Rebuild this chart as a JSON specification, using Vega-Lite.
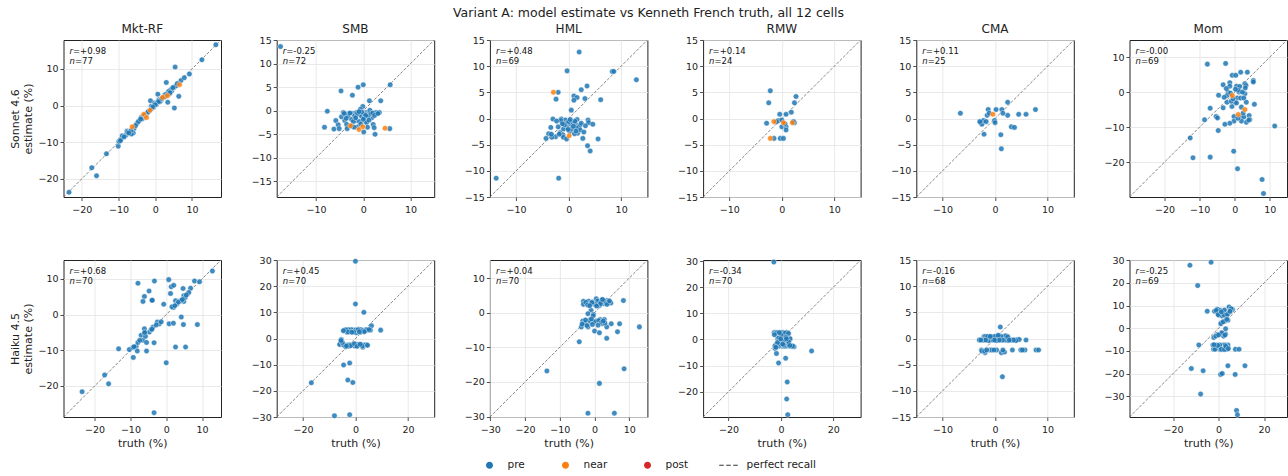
{
"$schema":"https://vega.github.io/schema/vega-lite/v6.json",
"background":"white",
"padding":{"left":8.5,"top":7,"right":1,"bottom":1},
"title":{"text":"Variant A: model estimate vs Kenneth French truth, all 12 cells","fontSize":12.5,"anchor":"middle","offset":3,"frame":"bounds"},
"columns":6,
"spacing":{"row":63,"column":55.2},
"bounds":"flush",
"datasets":{
"diag":[
{"p":"S1","t":-25,"e":-25},{"p":"S1","t":17.9,"e":17.9},
{"p":"S2","t":-18.3,"e":-18.3},{"p":"S2","t":15,"e":15},
{"p":"S3","t":-15,"e":-15},{"p":"S3","t":15,"e":15},
{"p":"S4","t":-15,"e":-15},{"p":"S4","t":15,"e":15},
{"p":"S5","t":-15,"e":-15},{"p":"S5","t":15,"e":15},
{"p":"S6","t":-30,"e":-30},{"p":"S6","t":14.9,"e":14.9},
{"p":"H1","t":-28.7,"e":-28.7},{"p":"H1","t":15.3,"e":15.3},
{"p":"H2","t":-30,"e":-30},{"p":"H2","t":30,"e":30},
{"p":"H3","t":-30.1,"e":-30.1},{"p":"H3","t":15.2,"e":15.2},
{"p":"H4","t":-29.7,"e":-29.7},{"p":"H4","t":30.4,"e":30.4},
{"p":"H5","t":-15,"e":-15},{"p":"H5","t":15,"e":15},
{"p":"H6","t":-39.2,"e":-39.2},{"p":"H6","t":30.1,"e":30.1}],
"ann":[
{"p":"S1","r":"=+0.98","n":"=77"},{"p":"S2","r":"=-0.25","n":"=72"},{"p":"S3","r":"=+0.48","n":"=69"},
{"p":"S4","r":"=+0.14","n":"=24"},{"p":"S5","r":"=+0.11","n":"=25"},{"p":"S6","r":"=-0.00","n":"=69"},
{"p":"H1","r":"=+0.68","n":"=70"},{"p":"H2","r":"=+0.45","n":"=70"},{"p":"H3","r":"=+0.04","n":"=70"},
{"p":"H4","r":"=-0.34","n":"=70"},{"p":"H5","r":"=-0.16","n":"=68"},{"p":"H6","r":"=-0.25","n":"=69"}],
"S1":[
{"t":-23.5,"e":-23.7,"w":"pre"},{"t":-17.3,"e":-17.0,"w":"pre"},{"t":-16.0,"e":-19.2,"w":"pre"},{"t":-13.3,"e":-13.2,"w":"pre"},{"t":-10.1,"e":-11.1,"w":"pre"},{"t":-9.9,"e":-9.8,"w":"pre"},{"t":-9.4,"e":-9.3,"w":"pre"},{"t":-9.0,"e":-8.3,"w":"pre"},{"t":-8.0,"e":-8.1,"w":"pre"},{"t":-7.7,"e":-7.0,"w":"pre"},{"t":-5.8,"e":-6.3,"w":"pre"},{"t":-6.0,"e":-7.5,"w":"pre"},{"t":-6.5,"e":-7.8,"w":"pre"},{"t":-5.0,"e":-4.9,"w":"pre"},{"t":-4.2,"e":-4.0,"w":"pre"},{"t":-3.8,"e":-3.2,"w":"pre"},{"t":-3.3,"e":-2.9,"w":"pre"},{"t":-2.2,"e":-2.1,"w":"pre"},{"t":-1.3,"e":1.3,"w":"pre"},{"t":-1.1,"e":-0.2,"w":"pre"},{"t":-0.2,"e":0.7,"w":"pre"},{"t":0.3,"e":0.3,"w":"pre"},{"t":0.7,"e":3.1,"w":"pre"},{"t":1.0,"e":1.6,"w":"pre"},{"t":1.4,"e":1.2,"w":"pre"},{"t":2.5,"e":2.8,"w":"pre"},{"t":3.0,"e":6.3,"w":"pre"},{"t":3.4,"e":0.9,"w":"pre"},{"t":3.9,"e":3.2,"w":"pre"},{"t":4.5,"e":4.0,"w":"pre"},{"t":5.1,"e":4.9,"w":"pre"},{"t":5.4,"e":10.5,"w":"pre"},{"t":5.7,"e":5.4,"w":"pre"},{"t":5.2,"e":-0.7,"w":"pre"},{"t":6.4,"e":2.5,"w":"pre"},{"t":7.0,"e":6.8,"w":"pre"},{"t":7.9,"e":7.6,"w":"pre"},{"t":9.3,"e":8.6,"w":"pre"},{"t":12.7,"e":12.5,"w":"pre"},{"t":16.5,"e":16.6,"w":"pre"},{"t":-8.5,"e":-8.6,"w":"pre"},{"t":-7.5,"e":-7.3,"w":"pre"},{"t":-3.5,"e":-3.6,"w":"pre"},{"t":-2.8,"e":-2.7,"w":"pre"},{"t":-0.5,"e":-0.5,"w":"pre"},{"t":0.5,"e":0.8,"w":"pre"},{"t":1.5,"e":1.4,"w":"pre"},{"t":2.2,"e":2.2,"w":"pre"},{"t":4.2,"e":4.3,"w":"pre"},{"t":4.8,"e":4.9,"w":"pre"},{"t":-4.6,"e":-4.4,"w":"pre"},{"t":-6.6,"e":-6.8,"w":"pre"},{"t":-1.8,"e":-1.6,"w":"pre"},{"t":3.6,"e":3.8,"w":"pre"},{"t":1.2,"e":1.0,"w":"pre"},{"t":-0.2,"e":0.2,"w":"pre"},{"t":0.9,"e":1.1,"w":"pre"},{"t":2.8,"e":3.0,"w":"pre"},{"t":-5.4,"e":-5.5,"w":"pre"},{"t":-9.5,"e":-9.6,"w":"pre"},{"t":-7.2,"e":-7.5,"w":"pre"},{"t":-4.0,"e":-3.7,"w":"pre"},{"t":0.0,"e":0.2,"w":"pre"},{"t":-1.0,"e":-0.8,"w":"pre"},{"t":6.0,"e":6.0,"w":"pre"},{"t":4.0,"e":3.5,"w":"pre"},{"t":-2.0,"e":-1.8,"w":"pre"},{"t":1.8,"e":1.9,"w":"pre"},{"t":-0.7,"e":-0.4,"w":"pre"},{"t":2.6,"e":2.4,"w":"pre"},
{"t":-6.3,"e":-5.8,"w":"near"},{"t":-3.1,"e":-2.4,"w":"near"},{"t":-2.4,"e":-3.3,"w":"near"},{"t":-1.4,"e":-1.3,"w":"near"},{"t":2.0,"e":2.2,"w":"near"},{"t":3.3,"e":2.7,"w":"near"},{"t":6.6,"e":5.7,"w":"near"}],
"S2":[
{"t":-17.5,"e":13.6,"w":"pre"},{"t":-4.7,"e":4.2,"w":"pre"},{"t":-2.3,"e":3.3,"w":"pre"},{"t":-1.1,"e":5.0,"w":"pre"},{"t":0.0,"e":5.5,"w":"pre"},{"t":5.7,"e":5.5,"w":"pre"},{"t":1.3,"e":2.1,"w":"pre"},{"t":3.7,"e":2.1,"w":"pre"},{"t":-0.1,"e":0.9,"w":"pre"},{"t":-7.6,"e":-0.1,"w":"pre"},{"t":-8.2,"e":-3.5,"w":"pre"},{"t":-6.2,"e":-3.9,"w":"pre"},{"t":-5.8,"e":-2.1,"w":"pre"},{"t":-5.3,"e":-3.0,"w":"pre"},{"t":-5.1,"e":-3.8,"w":"pre"},{"t":-4.6,"e":-1.3,"w":"pre"},{"t":-4.2,"e":-0.4,"w":"pre"},{"t":-3.9,"e":-2.1,"w":"pre"},{"t":-3.5,"e":-2.9,"w":"pre"},{"t":-3.4,"e":-3.8,"w":"pre"},{"t":-3.0,"e":-0.6,"w":"pre"},{"t":-2.5,"e":-1.8,"w":"pre"},{"t":-2.1,"e":-0.6,"w":"pre"},{"t":-1.8,"e":-1.1,"w":"pre"},{"t":-1.4,"e":-0.4,"w":"pre"},{"t":-1.1,"e":-3.4,"w":"pre"},{"t":-0.6,"e":-0.8,"w":"pre"},{"t":0.1,"e":-4.5,"w":"pre"},{"t":0.4,"e":-2.2,"w":"pre"},{"t":0.6,"e":-0.4,"w":"pre"},{"t":0.8,"e":-0.9,"w":"pre"},{"t":1.1,"e":-0.8,"w":"pre"},{"t":1.4,"e":0.1,"w":"pre"},{"t":1.8,"e":-1.5,"w":"pre"},{"t":2.1,"e":-2.9,"w":"pre"},{"t":2.3,"e":-3.6,"w":"pre"},{"t":2.5,"e":-5.0,"w":"pre"},{"t":2.7,"e":-0.4,"w":"pre"},{"t":3.4,"e":-0.4,"w":"pre"},{"t":5.6,"e":-3.8,"w":"pre"},{"t":-0.6,"e":0.3,"w":"pre"},{"t":-0.4,"e":-1.1,"w":"pre"},{"t":0.2,"e":-1.5,"w":"pre"},{"t":-1.5,"e":-2.1,"w":"pre"},{"t":-0.8,"e":-2.3,"w":"pre"},{"t":0.7,"e":-2.5,"w":"pre"},{"t":-3.2,"e":-1.1,"w":"pre"},{"t":-2.1,"e":-2.3,"w":"pre"},{"t":-1.2,"e":-0.6,"w":"pre"},{"t":0.3,"e":-0.7,"w":"pre"},{"t":1.0,"e":-1.2,"w":"pre"},{"t":-2.8,"e":-0.5,"w":"pre"},{"t":-0.3,"e":-0.3,"w":"pre"},{"t":1.6,"e":-0.6,"w":"pre"},{"t":-4.0,"e":-0.6,"w":"pre"},{"t":2.0,"e":-0.5,"w":"pre"},{"t":-1.6,"e":-1.5,"w":"pre"},{"t":0.9,"e":-3.5,"w":"pre"},{"t":-2.4,"e":-3.3,"w":"pre"},{"t":-0.5,"e":-2.8,"w":"pre"},{"t":1.2,"e":-2.0,"w":"pre"},{"t":-3.6,"e":-1.6,"w":"pre"},{"t":0.5,"e":-1.0,"w":"pre"},{"t":-0.9,"e":-0.2,"w":"pre"},{"t":2.4,"e":-1.0,"w":"pre"},{"t":3.1,"e":-0.6,"w":"pre"},{"t":-1.9,"e":-3.5,"w":"pre"},{"t":0.0,"e":-1.8,"w":"pre"},
{"t":-2.7,"e":-3.2,"w":"near"},{"t":-0.9,"e":-4.0,"w":"near"},{"t":-0.1,"e":-3.4,"w":"near"},{"t":4.6,"e":-3.7,"w":"near"}],
"S3":[
{"t":-13.8,"e":-11.4,"w":"pre"},{"t":-1.9,"e":-11.4,"w":"pre"},{"t":2.0,"e":12.7,"w":"pre"},{"t":-0.3,"e":9.1,"w":"pre"},{"t":8.3,"e":9.0,"w":"pre"},{"t":8.6,"e":9.0,"w":"pre"},{"t":12.9,"e":7.4,"w":"pre"},{"t":-2.0,"e":5.0,"w":"pre"},{"t":-2.4,"e":3.7,"w":"pre"},{"t":1.0,"e":4.3,"w":"pre"},{"t":1.6,"e":4.0,"w":"pre"},{"t":1.0,"e":3.5,"w":"pre"},{"t":2.4,"e":5.5,"w":"pre"},{"t":3.5,"e":6.2,"w":"pre"},{"t":3.1,"e":3.8,"w":"pre"},{"t":6.1,"e":3.6,"w":"pre"},{"t":0.5,"e":1.6,"w":"pre"},{"t":-3.0,"e":-0.1,"w":"pre"},{"t":-1.4,"e":-0.1,"w":"pre"},{"t":-0.6,"e":-0.3,"w":"pre"},{"t":-0.3,"e":-0.9,"w":"pre"},{"t":-3.4,"e":-1.7,"w":"pre"},{"t":-3.8,"e":-2.9,"w":"pre"},{"t":-4.3,"e":-3.8,"w":"pre"},{"t":-2.5,"e":-3.5,"w":"pre"},{"t":-1.6,"e":-2.7,"w":"pre"},{"t":-1.1,"e":-3.1,"w":"pre"},{"t":-1.0,"e":-3.6,"w":"pre"},{"t":-0.4,"e":-3.9,"w":"pre"},{"t":0.4,"e":-1.1,"w":"pre"},{"t":0.8,"e":-0.8,"w":"pre"},{"t":1.3,"e":-1.1,"w":"pre"},{"t":1.6,"e":-0.2,"w":"pre"},{"t":1.9,"e":-1.7,"w":"pre"},{"t":1.7,"e":-2.8,"w":"pre"},{"t":2.1,"e":-1.4,"w":"pre"},{"t":2.4,"e":-0.9,"w":"pre"},{"t":2.7,"e":-3.8,"w":"pre"},{"t":3.6,"e":-5.2,"w":"pre"},{"t":4.1,"e":-6.2,"w":"pre"},{"t":5.6,"e":-3.9,"w":"pre"},{"t":3.7,"e":-0.3,"w":"pre"},{"t":3.8,"e":-0.8,"w":"pre"},{"t":4.6,"e":-1.1,"w":"pre"},{"t":-0.3,"e":-1.7,"w":"pre"},{"t":0.2,"e":-2.5,"w":"pre"},{"t":0.6,"e":-2.0,"w":"pre"},{"t":1.1,"e":-2.9,"w":"pre"},{"t":1.5,"e":-1.8,"w":"pre"},{"t":-2.0,"e":-1.6,"w":"pre"},{"t":-1.0,"e":-2.0,"w":"pre"},{"t":-3.2,"e":-3.6,"w":"pre"},{"t":-1.5,"e":-0.4,"w":"pre"},{"t":-3.3,"e":-3.0,"w":"pre"},{"t":0.0,"e":-0.6,"w":"pre"},{"t":1.2,"e":-0.5,"w":"pre"},{"t":2.2,"e":-2.2,"w":"pre"},{"t":-0.8,"e":-1.2,"w":"pre"},{"t":-2.3,"e":-0.5,"w":"pre"},{"t":0.9,"e":-1.5,"w":"pre"},{"t":-1.8,"e":-3.0,"w":"pre"},{"t":3.2,"e":-1.4,"w":"pre"},{"t":-0.1,"e":-2.1,"w":"pre"},{"t":1.4,"e":-2.4,"w":"pre"},{"t":2.9,"e":-2.6,"w":"pre"},{"t":-1.2,"e":-1.0,"w":"pre"},{"t":0.3,"e":-0.2,"w":"pre"},
{"t":-2.9,"e":5.0,"w":"near"},{"t":0.1,"e":-3.3,"w":"near"}],
"S4":[
{"t":-2.2,"e":5.3,"w":"pre"},{"t":-2.5,"e":3.0,"w":"pre"},{"t":2.7,"e":4.2,"w":"pre"},{"t":2.4,"e":3.0,"w":"pre"},{"t":-0.4,"e":0.8,"w":"pre"},{"t":0.8,"e":0.8,"w":"pre"},{"t":1.8,"e":1.2,"w":"pre"},{"t":-2.9,"e":-0.9,"w":"pre"},{"t":-0.6,"e":-0.4,"w":"pre"},{"t":0.0,"e":-1.6,"w":"pre"},{"t":0.8,"e":-1.6,"w":"pre"},{"t":0.8,"e":-2.2,"w":"pre"},{"t":2.4,"e":-0.8,"w":"pre"},{"t":-1.5,"e":-3.8,"w":"pre"},{"t":-0.3,"e":-3.8,"w":"pre"},{"t":0.3,"e":-3.8,"w":"pre"},{"t":-1.0,"e":-0.6,"w":"pre"},{"t":2.2,"e":-0.6,"w":"pre"},{"t":0.0,"e":-0.3,"w":"pre"},{"t":0.6,"e":-1.0,"w":"pre"},
{"t":-1.5,"e":-0.6,"w":"near"},{"t":0.3,"e":-0.8,"w":"near"},{"t":2.0,"e":-0.8,"w":"near"},{"t":-2.2,"e":-3.8,"w":"near"}],
"S5":[
{"t":-6.6,"e":1.0,"w":"pre"},{"t":-1.3,"e":1.7,"w":"pre"},{"t":0.2,"e":1.7,"w":"pre"},{"t":1.3,"e":1.7,"w":"pre"},{"t":2.4,"e":3.1,"w":"pre"},{"t":2.4,"e":0.6,"w":"pre"},{"t":4.5,"e":0.8,"w":"pre"},{"t":5.9,"e":0.8,"w":"pre"},{"t":7.7,"e":1.7,"w":"pre"},{"t":1.5,"e":1.0,"w":"pre"},{"t":-1.5,"e":0.6,"w":"pre"},{"t":-2.7,"e":-0.8,"w":"pre"},{"t":-2.5,"e":-1.1,"w":"pre"},{"t":-2.2,"e":-0.4,"w":"pre"},{"t":-1.7,"e":-0.6,"w":"pre"},{"t":-0.1,"e":-0.4,"w":"pre"},{"t":-2.1,"e":-3.0,"w":"pre"},{"t":1.1,"e":-3.1,"w":"pre"},{"t":1.2,"e":-5.8,"w":"pre"},{"t":3.1,"e":-1.6,"w":"pre"},{"t":3.7,"e":-1.7,"w":"pre"},{"t":-1.1,"e":1.0,"w":"pre"},{"t":-2.9,"e":-0.6,"w":"pre"},{"t":0.0,"e":-0.8,"w":"pre"},
{"t":-0.4,"e":0.8,"w":"near"}],
"S6":[
{"t":-7.8,"e":8.0,"w":"pre"},{"t":-2.6,"e":8.2,"w":"pre"},{"t":-0.7,"e":4.8,"w":"pre"},{"t":0.3,"e":4.8,"w":"pre"},{"t":1.7,"e":5.7,"w":"pre"},{"t":3.6,"e":5.7,"w":"pre"},{"t":5.3,"e":3.3,"w":"pre"},{"t":5.3,"e":2.9,"w":"pre"},{"t":-3.3,"e":2.1,"w":"pre"},{"t":-1.4,"e":2.7,"w":"pre"},{"t":-1.4,"e":1.7,"w":"pre"},{"t":0.5,"e":1.7,"w":"pre"},{"t":1.4,"e":1.6,"w":"pre"},{"t":2.9,"e":2.4,"w":"pre"},{"t":3.2,"e":1.9,"w":"pre"},{"t":-1.9,"e":0.0,"w":"pre"},{"t":-2.2,"e":-1.0,"w":"pre"},{"t":1.2,"e":0.0,"w":"pre"},{"t":2.9,"e":-0.5,"w":"pre"},{"t":0.7,"e":-1.7,"w":"pre"},{"t":1.7,"e":-1.7,"w":"pre"},{"t":2.6,"e":-1.7,"w":"pre"},{"t":-4.6,"e":-0.9,"w":"pre"},{"t":0.0,"e":-2.9,"w":"pre"},{"t":-2.2,"e":-2.9,"w":"pre"},{"t":-3.3,"e":-4.5,"w":"pre"},{"t":-0.8,"e":-4.1,"w":"pre"},{"t":1.9,"e":-4.3,"w":"pre"},{"t":5.6,"e":-3.5,"w":"pre"},{"t":-7.0,"e":-4.6,"w":"pre"},{"t":-5.3,"e":-7.0,"w":"pre"},{"t":-4.9,"e":-7.4,"w":"pre"},{"t":-0.2,"e":-7.0,"w":"pre"},{"t":1.9,"e":-7.0,"w":"pre"},{"t":2.6,"e":-7.1,"w":"pre"},{"t":4.1,"e":-6.7,"w":"pre"},{"t":4.3,"e":-7.9,"w":"pre"},{"t":3.3,"e":-8.6,"w":"pre"},{"t":1.9,"e":-8.3,"w":"pre"},{"t":-0.2,"e":-8.3,"w":"pre"},{"t":-8.6,"e":-7.9,"w":"pre"},{"t":-1.4,"e":-8.9,"w":"pre"},{"t":-2.8,"e":-9.2,"w":"pre"},{"t":-4.7,"e":-11.0,"w":"pre"},{"t":11.4,"e":-9.7,"w":"pre"},{"t":-12.7,"e":-13.1,"w":"pre"},{"t":-11.9,"e":-18.8,"w":"pre"},{"t":-7.0,"e":-18.6,"w":"pre"},{"t":-0.3,"e":-16.9,"w":"pre"},{"t":0.8,"e":-21.9,"w":"pre"},{"t":7.8,"e":-25.0,"w":"pre"},{"t":8.2,"e":-29.0,"w":"pre"},{"t":-1.0,"e":-2.6,"w":"pre"},{"t":0.5,"e":-3.1,"w":"pre"},{"t":-2.4,"e":1.0,"w":"pre"},{"t":1.0,"e":0.5,"w":"pre"},{"t":-0.5,"e":-1.9,"w":"pre"},{"t":3.3,"e":-2.9,"w":"pre"},{"t":2.2,"e":0.0,"w":"pre"},{"t":0.2,"e":0.8,"w":"pre"},{"t":-1.2,"e":-0.3,"w":"pre"},{"t":3.0,"e":1.2,"w":"pre"},{"t":-3.0,"e":-1.5,"w":"pre"},{"t":4.0,"e":-8.0,"w":"pre"},{"t":0.9,"e":-7.5,"w":"pre"},{"t":2.4,"e":-6.0,"w":"pre"},
{"t":-0.7,"e":-1.0,"w":"near"},{"t":1.0,"e":-6.4,"w":"near"},{"t":2.9,"e":-5.0,"w":"near"}],
"H1":[
{"t":-23.5,"e":-21.6,"w":"pre"},{"t":-17.2,"e":-16.9,"w":"pre"},{"t":-16.1,"e":-19.4,"w":"pre"},{"t":-13.3,"e":-9.6,"w":"pre"},{"t":-10.3,"e":-9.8,"w":"pre"},{"t":-9.3,"e":-9.2,"w":"pre"},{"t":-9.2,"e":-12.0,"w":"pre"},{"t":-8.4,"e":-8.9,"w":"pre"},{"t":-7.9,"e":-7.8,"w":"pre"},{"t":-8.1,"e":-10.2,"w":"pre"},{"t":-7.0,"e":-5.8,"w":"pre"},{"t":-6.5,"e":-7.2,"w":"pre"},{"t":-6.1,"e":-4.0,"w":"pre"},{"t":-6.1,"e":-5.2,"w":"pre"},{"t":-5.5,"e":-7.8,"w":"pre"},{"t":-5.5,"e":-10.2,"w":"pre"},{"t":-5.8,"e":-6.1,"w":"pre"},{"t":-4.7,"e":-4.9,"w":"pre"},{"t":-4.2,"e":-4.2,"w":"pre"},{"t":-3.7,"e":-3.5,"w":"pre"},{"t":-3.4,"e":-7.9,"w":"pre"},{"t":-2.5,"e":-2.1,"w":"pre"},{"t":-1.9,"e":-2.6,"w":"pre"},{"t":-7.9,"e":8.8,"w":"pre"},{"t":-3.3,"e":9.4,"w":"pre"},{"t":-6.1,"e":5.1,"w":"pre"},{"t":-4.8,"e":6.6,"w":"pre"},{"t":-6.5,"e":3.7,"w":"pre"},{"t":-4.0,"e":4.0,"w":"pre"},{"t":-0.7,"e":2.9,"w":"pre"},{"t":0.7,"e":9.8,"w":"pre"},{"t":1.4,"e":7.8,"w":"pre"},{"t":2.1,"e":8.2,"w":"pre"},{"t":1.2,"e":5.9,"w":"pre"},{"t":2.6,"e":3.9,"w":"pre"},{"t":4.7,"e":7.3,"w":"pre"},{"t":6.8,"e":7.4,"w":"pre"},{"t":7.9,"e":9.4,"w":"pre"},{"t":9.3,"e":9.2,"w":"pre"},{"t":12.9,"e":12.2,"w":"pre"},{"t":2.0,"e":2.0,"w":"pre"},{"t":3.0,"e":3.0,"w":"pre"},{"t":3.9,"e":3.9,"w":"pre"},{"t":4.9,"e":3.7,"w":"pre"},{"t":5.9,"e":5.7,"w":"pre"},{"t":6.3,"e":6.2,"w":"pre"},{"t":4.9,"e":5.3,"w":"pre"},{"t":0.8,"e":-2.6,"w":"pre"},{"t":2.0,"e":-2.4,"w":"pre"},{"t":4.2,"e":-0.7,"w":"pre"},{"t":4.8,"e":-2.8,"w":"pre"},{"t":8.7,"e":-2.8,"w":"pre"},{"t":2.6,"e":-9.1,"w":"pre"},{"t":5.4,"e":-9.1,"w":"pre"},{"t":0.0,"e":-13.5,"w":"pre"},{"t":-3.4,"e":-27.5,"w":"pre"},{"t":4.2,"e":3.9,"w":"pre"},{"t":5.3,"e":4.8,"w":"pre"},{"t":-9.0,"e":-9.0,"w":"pre"},{"t":-2.8,"e":-2.9,"w":"pre"},{"t":-4.0,"e":-4.1,"w":"pre"},{"t":1.6,"e":2.2,"w":"pre"},{"t":3.4,"e":3.5,"w":"pre"},{"t":-7.4,"e":-7.2,"w":"pre"},{"t":-1.4,"e":-2.0,"w":"pre"},{"t":2.4,"e":2.5,"w":"pre"},{"t":-3.9,"e":4.0,"w":"pre"},{"t":5.6,"e":5.5,"w":"pre"},{"t":-6.0,"e":-5.0,"w":"pre"},{"t":4.5,"e":4.2,"w":"pre"}],
"H2":[
{"t":0.0,"e":29.5,"w":"pre"},{"t":0.0,"e":13.2,"w":"pre"},{"t":3.2,"e":10.0,"w":"pre"},{"t":6.1,"e":4.9,"w":"pre"},{"t":9.6,"e":3.2,"w":"pre"},{"t":5.7,"e":3.2,"w":"pre"},{"t":-4.1,"e":3.2,"w":"pre"},{"t":-3.2,"e":3.2,"w":"pre"},{"t":-1.9,"e":3.2,"w":"pre"},{"t":-0.9,"e":3.2,"w":"pre"},{"t":0.6,"e":3.2,"w":"pre"},{"t":1.7,"e":3.2,"w":"pre"},{"t":2.5,"e":3.2,"w":"pre"},{"t":3.8,"e":3.2,"w":"pre"},{"t":4.7,"e":3.2,"w":"pre"},{"t":-3.2,"e":2.4,"w":"pre"},{"t":-0.3,"e":2.4,"w":"pre"},{"t":1.9,"e":2.4,"w":"pre"},{"t":-5.4,"e":-0.4,"w":"pre"},{"t":-5.7,"e":-1.9,"w":"pre"},{"t":-6.0,"e":-2.3,"w":"pre"},{"t":-4.7,"e":-2.4,"w":"pre"},{"t":-2.2,"e":-2.4,"w":"pre"},{"t":-0.6,"e":-2.4,"w":"pre"},{"t":1.3,"e":-2.4,"w":"pre"},{"t":4.2,"e":-2.4,"w":"pre"},{"t":-2.5,"e":-3.0,"w":"pre"},{"t":2.8,"e":-3.3,"w":"pre"},{"t":-3.8,"e":-3.2,"w":"pre"},{"t":-4.5,"e":-10.1,"w":"pre"},{"t":-2.2,"e":-9.4,"w":"pre"},{"t":-2.9,"e":-15.9,"w":"pre"},{"t":-1.0,"e":-16.8,"w":"pre"},{"t":-16.8,"e":-16.9,"w":"pre"},{"t":-8.0,"e":-29.5,"w":"pre"},{"t":-2.2,"e":-29.1,"w":"pre"},{"t":0.3,"e":2.2,"w":"pre"},{"t":1.3,"e":3.5,"w":"pre"},{"t":-1.5,"e":3.3,"w":"pre"},{"t":2.0,"e":3.3,"w":"pre"},{"t":3.0,"e":3.0,"w":"pre"},{"t":-2.6,"e":3.3,"w":"pre"},{"t":0.0,"e":3.2,"w":"pre"},{"t":1.0,"e":3.3,"w":"pre"},{"t":-3.6,"e":3.3,"w":"pre"},{"t":4.2,"e":3.3,"w":"pre"},{"t":-1.2,"e":-2.4,"w":"pre"},{"t":0.2,"e":-2.4,"w":"pre"},{"t":2.2,"e":-2.4,"w":"pre"},{"t":-3.2,"e":-2.5,"w":"pre"},{"t":-4.2,"e":-2.6,"w":"pre"},{"t":3.2,"e":-2.5,"w":"pre"},{"t":-0.2,"e":-2.9,"w":"pre"},{"t":-1.8,"e":-2.7,"w":"pre"},{"t":2.6,"e":-2.9,"w":"pre"},{"t":-5.0,"e":-1.5,"w":"pre"},{"t":0.8,"e":-2.3,"w":"pre"},{"t":-2.8,"e":2.5,"w":"pre"},{"t":3.4,"e":2.6,"w":"pre"},{"t":-0.6,"e":2.5,"w":"pre"},{"t":1.5,"e":2.6,"w":"pre"},{"t":-4.6,"e":3.0,"w":"pre"},{"t":5.2,"e":3.4,"w":"pre"},{"t":-0.4,"e":-2.0,"w":"pre"},{"t":-3.4,"e":-2.9,"w":"pre"},{"t":0.6,"e":-3.0,"w":"pre"},{"t":1.8,"e":-2.2,"w":"pre"},{"t":-5.5,"e":-0.8,"w":"pre"},{"t":4.6,"e":-2.6,"w":"pre"},{"t":-1.4,"e":2.4,"w":"pre"}],
"H3":[
{"t":-13.7,"e":-16.8,"w":"pre"},{"t":-4.4,"e":-8.4,"w":"pre"},{"t":-1.9,"e":-29.0,"w":"pre"},{"t":5.7,"e":-29.0,"w":"pre"},{"t":1.4,"e":-20.4,"w":"pre"},{"t":8.5,"e":-16.2,"w":"pre"},{"t":12.9,"e":-4.1,"w":"pre"},{"t":8.3,"e":3.5,"w":"pre"},{"t":-3.2,"e":3.3,"w":"pre"},{"t":-1.7,"e":3.3,"w":"pre"},{"t":0.5,"e":4.0,"w":"pre"},{"t":2.1,"e":3.7,"w":"pre"},{"t":3.5,"e":3.5,"w":"pre"},{"t":4.7,"e":2.8,"w":"pre"},{"t":-3.2,"e":2.4,"w":"pre"},{"t":-1.2,"e":2.6,"w":"pre"},{"t":-0.1,"e":2.4,"w":"pre"},{"t":1.1,"e":3.1,"w":"pre"},{"t":2.6,"e":2.6,"w":"pre"},{"t":3.1,"e":2.8,"w":"pre"},{"t":1.4,"e":2.1,"w":"pre"},{"t":-1.0,"e":0.7,"w":"pre"},{"t":-1.9,"e":-0.3,"w":"pre"},{"t":-0.3,"e":-0.5,"w":"pre"},{"t":-3.4,"e":-2.4,"w":"pre"},{"t":-2.2,"e":-2.6,"w":"pre"},{"t":-1.2,"e":-2.7,"w":"pre"},{"t":0.5,"e":-2.4,"w":"pre"},{"t":1.6,"e":-2.0,"w":"pre"},{"t":2.8,"e":-2.0,"w":"pre"},{"t":2.3,"e":-3.2,"w":"pre"},{"t":4.8,"e":-3.2,"w":"pre"},{"t":7.2,"e":-3.2,"w":"pre"},{"t":-3.8,"e":-4.1,"w":"pre"},{"t":-1.9,"e":-4.1,"w":"pre"},{"t":3.5,"e":-4.1,"w":"pre"},{"t":0.0,"e":-5.3,"w":"pre"},{"t":1.4,"e":-5.8,"w":"pre"},{"t":3.5,"e":-7.4,"w":"pre"},{"t":6.6,"e":-5.5,"w":"pre"},{"t":-2.7,"e":-3.2,"w":"pre"},{"t":-2.5,"e":3.0,"w":"pre"},{"t":-0.6,"e":3.1,"w":"pre"},{"t":0.9,"e":3.4,"w":"pre"},{"t":1.8,"e":3.0,"w":"pre"},{"t":2.9,"e":3.3,"w":"pre"},{"t":4.0,"e":3.1,"w":"pre"},{"t":-2.0,"e":2.2,"w":"pre"},{"t":0.3,"e":2.3,"w":"pre"},{"t":1.7,"e":2.6,"w":"pre"},{"t":3.6,"e":2.4,"w":"pre"},{"t":-0.8,"e":2.9,"w":"pre"},{"t":2.3,"e":3.8,"w":"pre"},{"t":-0.4,"e":-0.9,"w":"pre"},{"t":-2.9,"e":-3.0,"w":"pre"},{"t":-1.5,"e":-2.2,"w":"pre"},{"t":0.0,"e":-2.6,"w":"pre"},{"t":1.2,"e":-2.3,"w":"pre"},{"t":2.0,"e":-2.8,"w":"pre"},{"t":-0.6,"e":-3.4,"w":"pre"},{"t":-2.2,"e":-3.7,"w":"pre"},{"t":3.0,"e":-3.0,"w":"pre"},{"t":0.6,"e":1.9,"w":"pre"},{"t":-1.4,"e":2.0,"w":"pre"},{"t":4.3,"e":3.4,"w":"pre"},{"t":-2.6,"e":-2.1,"w":"pre"},{"t":1.0,"e":-3.6,"w":"pre"},{"t":2.5,"e":-2.4,"w":"pre"},{"t":-3.6,"e":-3.3,"w":"pre"},{"t":-0.9,"e":-1.8,"w":"pre"}],
"H4":[
{"t":-2.7,"e":29.6,"w":"pre"},{"t":-2.6,"e":2.6,"w":"pre"},{"t":-1.7,"e":2.6,"w":"pre"},{"t":0.6,"e":2.6,"w":"pre"},{"t":2.4,"e":2.6,"w":"pre"},{"t":-0.4,"e":0.4,"w":"pre"},{"t":1.3,"e":0.6,"w":"pre"},{"t":3.2,"e":0.4,"w":"pre"},{"t":2.2,"e":-0.9,"w":"pre"},{"t":-1.4,"e":-2.2,"w":"pre"},{"t":0.6,"e":-2.6,"w":"pre"},{"t":3.1,"e":-2.4,"w":"pre"},{"t":5.0,"e":-2.8,"w":"pre"},{"t":-2.2,"e":-3.5,"w":"pre"},{"t":-1.7,"e":-5.4,"w":"pre"},{"t":-0.9,"e":-9.0,"w":"pre"},{"t":1.8,"e":-7.2,"w":"pre"},{"t":11.7,"e":-4.4,"w":"pre"},{"t":2.4,"e":-16.3,"w":"pre"},{"t":2.2,"e":-22.8,"w":"pre"},{"t":2.6,"e":-28.8,"w":"pre"},{"t":1.5,"e":-0.3,"w":"pre"},{"t":-0.6,"e":-1.5,"w":"pre"},{"t":0.4,"e":1.3,"w":"pre"},{"t":-2.0,"e":2.6,"w":"pre"},{"t":1.0,"e":2.6,"w":"pre"},{"t":2.0,"e":2.6,"w":"pre"},{"t":-1.0,"e":2.4,"w":"pre"},{"t":0.0,"e":0.4,"w":"pre"},{"t":0.8,"e":0.4,"w":"pre"},{"t":2.6,"e":0.5,"w":"pre"},{"t":-1.2,"e":0.3,"w":"pre"},{"t":1.8,"e":-0.2,"w":"pre"},{"t":2.8,"e":-0.5,"w":"pre"},{"t":-0.2,"e":-0.8,"w":"pre"},{"t":0.2,"e":-2.4,"w":"pre"},{"t":1.4,"e":-2.6,"w":"pre"},{"t":2.2,"e":-2.5,"w":"pre"},{"t":3.6,"e":-2.6,"w":"pre"},{"t":-1.0,"e":-2.6,"w":"pre"},{"t":-0.5,"e":-2.3,"w":"pre"},{"t":4.2,"e":-2.7,"w":"pre"},{"t":-1.8,"e":-2.0,"w":"pre"},{"t":0.9,"e":-1.2,"w":"pre"},{"t":2.4,"e":-1.6,"w":"pre"},{"t":-0.8,"e":0.6,"w":"pre"},{"t":1.6,"e":1.0,"w":"pre"},{"t":3.5,"e":0.2,"w":"pre"},{"t":-1.5,"e":2.5,"w":"pre"},{"t":0.3,"e":2.5,"w":"pre"},{"t":1.6,"e":2.4,"w":"pre"},{"t":2.9,"e":2.3,"w":"pre"},{"t":-2.3,"e":-2.5,"w":"pre"},{"t":0.5,"e":-0.5,"w":"pre"},{"t":1.2,"e":-0.1,"w":"pre"},{"t":-0.3,"e":-1.8,"w":"pre"},{"t":2.7,"e":-2.0,"w":"pre"},{"t":4.5,"e":-2.5,"w":"pre"},{"t":-1.3,"e":-1.2,"w":"pre"},{"t":3.0,"e":-1.0,"w":"pre"},{"t":0.1,"e":1.8,"w":"pre"},{"t":-0.6,"e":2.6,"w":"pre"},{"t":1.9,"e":0.8,"w":"pre"},{"t":-0.1,"e":0.2,"w":"pre"},{"t":1.1,"e":-2.2,"w":"pre"},{"t":3.4,"e":-2.3,"w":"pre"},{"t":-2.5,"e":1.8,"w":"pre"},{"t":0.7,"e":-1.8,"w":"pre"},{"t":2.1,"e":0.2,"w":"pre"},{"t":-1.9,"e":-3.0,"w":"pre"}],
"H5":[
{"t":1.0,"e":2.2,"w":"pre"},{"t":1.4,"e":-7.3,"w":"pre"},{"t":-2.1,"e":0.4,"w":"pre"},{"t":-1.0,"e":0.4,"w":"pre"},{"t":-0.2,"e":0.4,"w":"pre"},{"t":0.8,"e":0.5,"w":"pre"},{"t":2.4,"e":0.4,"w":"pre"},{"t":-2.9,"e":-0.3,"w":"pre"},{"t":-2.4,"e":-0.3,"w":"pre"},{"t":-1.5,"e":-0.3,"w":"pre"},{"t":-0.8,"e":-0.3,"w":"pre"},{"t":0.1,"e":-0.3,"w":"pre"},{"t":1.2,"e":-0.3,"w":"pre"},{"t":1.7,"e":-0.3,"w":"pre"},{"t":3.3,"e":-0.3,"w":"pre"},{"t":3.8,"e":-0.3,"w":"pre"},{"t":4.3,"e":-0.2,"w":"pre"},{"t":4.6,"e":-0.2,"w":"pre"},{"t":5.9,"e":-0.3,"w":"pre"},{"t":2.8,"e":-0.3,"w":"pre"},{"t":-2.6,"e":-2.2,"w":"pre"},{"t":-1.0,"e":-2.2,"w":"pre"},{"t":0.3,"e":-2.2,"w":"pre"},{"t":3.3,"e":-2.2,"w":"pre"},{"t":4.9,"e":-2.2,"w":"pre"},{"t":5.7,"e":-2.2,"w":"pre"},{"t":7.8,"e":-2.2,"w":"pre"},{"t":8.3,"e":-2.2,"w":"pre"},{"t":-1.9,"e":-2.7,"w":"pre"},{"t":1.2,"e":-2.7,"w":"pre"},{"t":1.8,"e":-2.6,"w":"pre"},{"t":-2.5,"e":-2.4,"w":"pre"},{"t":-1.8,"e":0.4,"w":"pre"},{"t":-0.5,"e":0.3,"w":"pre"},{"t":0.4,"e":0.4,"w":"pre"},{"t":1.5,"e":0.4,"w":"pre"},{"t":2.0,"e":0.5,"w":"pre"},{"t":-2.2,"e":-0.3,"w":"pre"},{"t":-1.2,"e":-0.4,"w":"pre"},{"t":-0.4,"e":-0.3,"w":"pre"},{"t":0.5,"e":-0.3,"w":"pre"},{"t":0.9,"e":-0.3,"w":"pre"},{"t":2.2,"e":-0.3,"w":"pre"},{"t":2.5,"e":-0.4,"w":"pre"},{"t":3.0,"e":-0.3,"w":"pre"},{"t":4.0,"e":-0.4,"w":"pre"},{"t":-3.0,"e":-0.3,"w":"pre"},{"t":-0.6,"e":-2.2,"w":"pre"},{"t":1.5,"e":-2.2,"w":"pre"},{"t":-2.0,"e":-2.4,"w":"pre"},{"t":-1.4,"e":0.4,"w":"pre"},{"t":0.0,"e":0.4,"w":"pre"},{"t":1.1,"e":0.4,"w":"pre"},{"t":1.9,"e":-0.3,"w":"pre"},{"t":3.5,"e":-0.3,"w":"pre"},{"t":-1.8,"e":-0.3,"w":"pre"},{"t":0.3,"e":-0.4,"w":"pre"},{"t":-0.2,"e":-2.2,"w":"pre"},{"t":2.4,"e":0.3,"w":"pre"},{"t":0.6,"e":0.6,"w":"pre"},{"t":-2.7,"e":-0.3,"w":"pre"},{"t":1.4,"e":-0.3,"w":"pre"},{"t":-1.6,"e":-2.2,"w":"pre"},{"t":5.2,"e":-2.2,"w":"pre"},{"t":-0.9,"e":0.4,"w":"pre"},{"t":2.7,"e":-0.3,"w":"pre"},{"t":0.8,"e":-0.3,"w":"pre"},{"t":-0.1,"e":-0.3,"w":"pre"}],
"H6":[
{"t":-12.6,"e":27.8,"w":"pre"},{"t":-3.3,"e":29.1,"w":"pre"},{"t":-9.2,"e":18.8,"w":"pre"},{"t":-5.0,"e":7.5,"w":"pre"},{"t":-1.8,"e":7.5,"w":"pre"},{"t":-0.6,"e":8.4,"w":"pre"},{"t":0.9,"e":7.9,"w":"pre"},{"t":1.9,"e":7.5,"w":"pre"},{"t":4.6,"e":9.4,"w":"pre"},{"t":6.1,"e":8.2,"w":"pre"},{"t":4.9,"e":7.1,"w":"pre"},{"t":0.1,"e":5.7,"w":"pre"},{"t":1.6,"e":5.4,"w":"pre"},{"t":3.4,"e":5.7,"w":"pre"},{"t":4.1,"e":3.5,"w":"pre"},{"t":2.7,"e":3.1,"w":"pre"},{"t":1.2,"e":2.4,"w":"pre"},{"t":3.1,"e":-0.3,"w":"pre"},{"t":3.1,"e":-2.6,"w":"pre"},{"t":1.6,"e":-2.4,"w":"pre"},{"t":2.2,"e":-3.5,"w":"pre"},{"t":-2.1,"e":-4.1,"w":"pre"},{"t":-0.6,"e":-2.8,"w":"pre"},{"t":-8.7,"e":-7.4,"w":"pre"},{"t":-2.5,"e":-7.4,"w":"pre"},{"t":-0.7,"e":-7.4,"w":"pre"},{"t":1.9,"e":-7.4,"w":"pre"},{"t":4.1,"e":-7.4,"w":"pre"},{"t":-2.2,"e":-9.3,"w":"pre"},{"t":0.7,"e":-9.4,"w":"pre"},{"t":1.5,"e":-9.4,"w":"pre"},{"t":3.7,"e":-9.3,"w":"pre"},{"t":7.4,"e":-9.3,"w":"pre"},{"t":9.0,"e":-9.3,"w":"pre"},{"t":4.1,"e":-16.6,"w":"pre"},{"t":11.6,"e":-16.6,"w":"pre"},{"t":-12.0,"e":-17.8,"w":"pre"},{"t":-6.8,"e":-18.8,"w":"pre"},{"t":0.9,"e":-20.4,"w":"pre"},{"t":1.6,"e":-20.0,"w":"pre"},{"t":7.3,"e":-20.4,"w":"pre"},{"t":-7.9,"e":-29.1,"w":"pre"},{"t":7.9,"e":-36.3,"w":"pre"},{"t":8.3,"e":-38.2,"w":"pre"},{"t":0.4,"e":-8.2,"w":"pre"},{"t":-1.0,"e":7.8,"w":"pre"},{"t":2.6,"e":8.0,"w":"pre"},{"t":5.5,"e":8.6,"w":"pre"},{"t":-0.2,"e":6.0,"w":"pre"},{"t":2.4,"e":5.9,"w":"pre"},{"t":3.9,"e":6.1,"w":"pre"},{"t":1.0,"e":2.0,"w":"pre"},{"t":2.0,"e":2.8,"w":"pre"},{"t":3.6,"e":3.9,"w":"pre"},{"t":1.4,"e":-2.0,"w":"pre"},{"t":2.8,"e":-3.0,"w":"pre"},{"t":-1.2,"e":-3.5,"w":"pre"},{"t":0.5,"e":-7.4,"w":"pre"},{"t":2.9,"e":-7.4,"w":"pre"},{"t":-1.5,"e":-9.3,"w":"pre"},{"t":1.2,"e":-9.3,"w":"pre"},{"t":2.6,"e":-9.4,"w":"pre"},{"t":-0.4,"e":-7.6,"w":"pre"},{"t":3.2,"e":-8.0,"w":"pre"},{"t":0.0,"e":-3.0,"w":"pre"},{"t":5.0,"e":7.5,"w":"pre"},{"t":1.2,"e":7.2,"w":"pre"},{"t":-2.0,"e":-7.3,"w":"pre"},{"t":4.3,"e":-9.0,"w":"pre"}]
},
"concat":[
{"width":157.5,"height":157,"title":{"text":"Mkt-RF","dy":-5},"layer":[
{"data":{"name":"diag"},"transform":[{"filter":"datum.p=='S1'"}],"mark":{"type":"line","clip":true,"color":"#666","strokeWidth":0.8,"strokeDash":[3,1.6]},"encoding":{"x":{"field":"t","type":"quantitative","scale":{"domain":[-25,17.9],"nice":false,"zero":false},"axis":{"values":[-20,-10,0,10],"tickCount":20,"title":null}},"y":{"field":"e","type":"quantitative","scale":{"domain":[-25,17.9],"nice":false,"zero":false},"axis":{"values":[-20,-10,0,10],"tickCount":20,"title":["Sonnet 4.6","estimate (%)"]}}}},
{"data":{"name":"S1"},"mark":{"type":"point","filled":true,"size":250,"opacity":0.85,"stroke":"white","strokeWidth":0.5},"encoding":{"x":{"field":"t","type":"quantitative"},"y":{"field":"e","type":"quantitative"},
"color":{"field":"w","type":"nominal","scale":{"domain":["pre","near","post","perfect recall"],"range":["#1f77b4","#ff7f0e","#d62728","#333333"]},"legend":{"title":null,"orient":"bottom","direction":"horizontal","symbolSize":400,"symbolStrokeWidth":0,"symbolOpacity":1,"labelFontSize":10.5,"labelOffset":8,"columnPadding":30,"offset":6}},
"shape":{"field":"w","type":"nominal","scale":{"domain":["pre","near","post","perfect recall"],"range":["M-0.35,0A0.35,0.35,0,1,1,0.35,0A0.35,0.35,0,1,1,-0.35,0Z","M-0.35,0A0.35,0.35,0,1,1,0.35,0A0.35,0.35,0,1,1,-0.35,0Z","M-0.35,0A0.35,0.35,0,1,1,0.35,0A0.35,0.35,0,1,1,-0.35,0Z","M-0.925,-0.06H-0.475V0.06H-0.925Z M-0.225,-0.06H0.225V0.06H-0.225Z M0.475,-0.06H0.925V0.06H0.475Z"]},"legend":{"title":null,"orient":"bottom","direction":"horizontal","symbolSize":400,"symbolStrokeWidth":0,"symbolOpacity":1,"labelFontSize":10.5,"labelOffset":8,"columnPadding":30,"offset":6}}}},
{"data":{"name":"ann"},"transform":[{"filter":"datum.p=='S1'"}],"mark":{"type":"text","text":"r","fontStyle":"italic","fontSize":8.5,"align":"left","baseline":"middle","dx":6,"dy":10.7,"color":"#111"},"encoding":{"x":{"datum":-25},"y":{"datum":17.9}}},
{"data":{"name":"ann"},"transform":[{"filter":"datum.p=='S1'"}],"mark":{"type":"text","fontSize":8.5,"align":"left","baseline":"middle","dx":9.5,"dy":10.7,"color":"#111"},"encoding":{"x":{"datum":-25},"y":{"datum":17.9},"text":{"field":"r"}}},
{"data":{"name":"ann"},"transform":[{"filter":"datum.p=='S1'"}],"mark":{"type":"text","text":"n","fontStyle":"italic","fontSize":8.5,"align":"left","baseline":"middle","dx":6,"dy":21,"color":"#111"},"encoding":{"x":{"datum":-25},"y":{"datum":17.9}}},
{"data":{"name":"ann"},"transform":[{"filter":"datum.p=='S1'"}],"mark":{"type":"text","fontSize":8.5,"align":"left","baseline":"middle","dx":11.4,"dy":21,"color":"#111"},"encoding":{"x":{"datum":-25},"y":{"datum":17.9},"text":{"field":"n"}}}
]},
{"width":157.5,"height":157,"title":"SMB","layer":[
{"data":{"name":"diag"},"transform":[{"filter":"datum.p=='S2'"}],"mark":{"type":"line","clip":true,"color":"#666","strokeWidth":0.8,"strokeDash":[3,1.6]},"encoding":{"x":{"field":"t","type":"quantitative","scale":{"domain":[-18.3,15],"nice":false,"zero":false},"axis":{"values":[-10,0,10],"tickCount":20,"title":null}},"y":{"field":"e","type":"quantitative","scale":{"domain":[-18.3,15],"nice":false,"zero":false},"axis":{"values":[-15,-10,-5,0,5,10,15],"tickCount":20,"title":null}}}},
{"data":{"name":"S2"},"mark":{"type":"point","filled":true,"size":250,"opacity":0.85,"stroke":"white","strokeWidth":0.5},"encoding":{"x":{"field":"t","type":"quantitative"},"y":{"field":"e","type":"quantitative"},"color":{"field":"w","type":"nominal","legend":null},"shape":{"field":"w","type":"nominal","legend":null}}},
{"data":{"name":"ann"},"transform":[{"filter":"datum.p=='S2'"}],"mark":{"type":"text","text":"r","fontStyle":"italic","fontSize":8.5,"align":"left","baseline":"middle","dx":6,"dy":10.7,"color":"#111"},"encoding":{"x":{"datum":-18.3},"y":{"datum":15}}},
{"data":{"name":"ann"},"transform":[{"filter":"datum.p=='S2'"}],"mark":{"type":"text","fontSize":8.5,"align":"left","baseline":"middle","dx":9.5,"dy":10.7,"color":"#111"},"encoding":{"x":{"datum":-18.3},"y":{"datum":15},"text":{"field":"r"}}},
{"data":{"name":"ann"},"transform":[{"filter":"datum.p=='S2'"}],"mark":{"type":"text","text":"n","fontStyle":"italic","fontSize":8.5,"align":"left","baseline":"middle","dx":6,"dy":21,"color":"#111"},"encoding":{"x":{"datum":-18.3},"y":{"datum":15}}},
{"data":{"name":"ann"},"transform":[{"filter":"datum.p=='S2'"}],"mark":{"type":"text","fontSize":8.5,"align":"left","baseline":"middle","dx":11.4,"dy":21,"color":"#111"},"encoding":{"x":{"datum":-18.3},"y":{"datum":15},"text":{"field":"n"}}}
]},
{"width":157.5,"height":157,"title":"HML","layer":[
{"data":{"name":"diag"},"transform":[{"filter":"datum.p=='S3'"}],"mark":{"type":"line","clip":true,"color":"#666","strokeWidth":0.8,"strokeDash":[3,1.6]},"encoding":{"x":{"field":"t","type":"quantitative","scale":{"domain":[-15,15],"nice":false,"zero":false},"axis":{"values":[-10,0,10],"tickCount":20,"title":null}},"y":{"field":"e","type":"quantitative","scale":{"domain":[-15,15],"nice":false,"zero":false},"axis":{"values":[-15,-10,-5,0,5,10,15],"tickCount":20,"title":null}}}},
{"data":{"name":"S3"},"mark":{"type":"point","filled":true,"size":250,"opacity":0.85,"stroke":"white","strokeWidth":0.5},"encoding":{"x":{"field":"t","type":"quantitative"},"y":{"field":"e","type":"quantitative"},"color":{"field":"w","type":"nominal","legend":null},"shape":{"field":"w","type":"nominal","legend":null}}},
{"data":{"name":"ann"},"transform":[{"filter":"datum.p=='S3'"}],"mark":{"type":"text","text":"r","fontStyle":"italic","fontSize":8.5,"align":"left","baseline":"middle","dx":6,"dy":10.7,"color":"#111"},"encoding":{"x":{"datum":-15},"y":{"datum":15}}},
{"data":{"name":"ann"},"transform":[{"filter":"datum.p=='S3'"}],"mark":{"type":"text","fontSize":8.5,"align":"left","baseline":"middle","dx":9.5,"dy":10.7,"color":"#111"},"encoding":{"x":{"datum":-15},"y":{"datum":15},"text":{"field":"r"}}},
{"data":{"name":"ann"},"transform":[{"filter":"datum.p=='S3'"}],"mark":{"type":"text","text":"n","fontStyle":"italic","fontSize":8.5,"align":"left","baseline":"middle","dx":6,"dy":21,"color":"#111"},"encoding":{"x":{"datum":-15},"y":{"datum":15}}},
{"data":{"name":"ann"},"transform":[{"filter":"datum.p=='S3'"}],"mark":{"type":"text","fontSize":8.5,"align":"left","baseline":"middle","dx":11.4,"dy":21,"color":"#111"},"encoding":{"x":{"datum":-15},"y":{"datum":15},"text":{"field":"n"}}}
]},
{"width":157.5,"height":157,"title":"RMW","layer":[
{"data":{"name":"diag"},"transform":[{"filter":"datum.p=='S4'"}],"mark":{"type":"line","clip":true,"color":"#666","strokeWidth":0.8,"strokeDash":[3,1.6]},"encoding":{"x":{"field":"t","type":"quantitative","scale":{"domain":[-15,15],"nice":false,"zero":false},"axis":{"values":[-10,0,10],"tickCount":20,"title":null}},"y":{"field":"e","type":"quantitative","scale":{"domain":[-15,15],"nice":false,"zero":false},"axis":{"values":[-15,-10,-5,0,5,10,15],"tickCount":20,"title":null}}}},
{"data":{"name":"S4"},"mark":{"type":"point","filled":true,"size":250,"opacity":0.85,"stroke":"white","strokeWidth":0.5},"encoding":{"x":{"field":"t","type":"quantitative"},"y":{"field":"e","type":"quantitative"},"color":{"field":"w","type":"nominal","legend":null},"shape":{"field":"w","type":"nominal","legend":null}}},
{"data":{"name":"ann"},"transform":[{"filter":"datum.p=='S4'"}],"mark":{"type":"text","text":"r","fontStyle":"italic","fontSize":8.5,"align":"left","baseline":"middle","dx":6,"dy":10.7,"color":"#111"},"encoding":{"x":{"datum":-15},"y":{"datum":15}}},
{"data":{"name":"ann"},"transform":[{"filter":"datum.p=='S4'"}],"mark":{"type":"text","fontSize":8.5,"align":"left","baseline":"middle","dx":9.5,"dy":10.7,"color":"#111"},"encoding":{"x":{"datum":-15},"y":{"datum":15},"text":{"field":"r"}}},
{"data":{"name":"ann"},"transform":[{"filter":"datum.p=='S4'"}],"mark":{"type":"text","text":"n","fontStyle":"italic","fontSize":8.5,"align":"left","baseline":"middle","dx":6,"dy":21,"color":"#111"},"encoding":{"x":{"datum":-15},"y":{"datum":15}}},
{"data":{"name":"ann"},"transform":[{"filter":"datum.p=='S4'"}],"mark":{"type":"text","fontSize":8.5,"align":"left","baseline":"middle","dx":11.4,"dy":21,"color":"#111"},"encoding":{"x":{"datum":-15},"y":{"datum":15},"text":{"field":"n"}}}
]},
{"width":157.5,"height":157,"title":"CMA","layer":[
{"data":{"name":"diag"},"transform":[{"filter":"datum.p=='S5'"}],"mark":{"type":"line","clip":true,"color":"#666","strokeWidth":0.8,"strokeDash":[3,1.6]},"encoding":{"x":{"field":"t","type":"quantitative","scale":{"domain":[-15,15],"nice":false,"zero":false},"axis":{"values":[-10,0,10],"tickCount":20,"title":null}},"y":{"field":"e","type":"quantitative","scale":{"domain":[-15,15],"nice":false,"zero":false},"axis":{"values":[-15,-10,-5,0,5,10,15],"tickCount":20,"title":null}}}},
{"data":{"name":"S5"},"mark":{"type":"point","filled":true,"size":250,"opacity":0.85,"stroke":"white","strokeWidth":0.5},"encoding":{"x":{"field":"t","type":"quantitative"},"y":{"field":"e","type":"quantitative"},"color":{"field":"w","type":"nominal","legend":null},"shape":{"field":"w","type":"nominal","legend":null}}},
{"data":{"name":"ann"},"transform":[{"filter":"datum.p=='S5'"}],"mark":{"type":"text","text":"r","fontStyle":"italic","fontSize":8.5,"align":"left","baseline":"middle","dx":6,"dy":10.7,"color":"#111"},"encoding":{"x":{"datum":-15},"y":{"datum":15}}},
{"data":{"name":"ann"},"transform":[{"filter":"datum.p=='S5'"}],"mark":{"type":"text","fontSize":8.5,"align":"left","baseline":"middle","dx":9.5,"dy":10.7,"color":"#111"},"encoding":{"x":{"datum":-15},"y":{"datum":15},"text":{"field":"r"}}},
{"data":{"name":"ann"},"transform":[{"filter":"datum.p=='S5'"}],"mark":{"type":"text","text":"n","fontStyle":"italic","fontSize":8.5,"align":"left","baseline":"middle","dx":6,"dy":21,"color":"#111"},"encoding":{"x":{"datum":-15},"y":{"datum":15}}},
{"data":{"name":"ann"},"transform":[{"filter":"datum.p=='S5'"}],"mark":{"type":"text","fontSize":8.5,"align":"left","baseline":"middle","dx":11.4,"dy":21,"color":"#111"},"encoding":{"x":{"datum":-15},"y":{"datum":15},"text":{"field":"n"}}}
]},
{"width":157.5,"height":157,"title":{"text":"Mom","dy":-5},"layer":[
{"data":{"name":"diag"},"transform":[{"filter":"datum.p=='S6'"}],"mark":{"type":"line","clip":true,"color":"#666","strokeWidth":0.8,"strokeDash":[3,1.6]},"encoding":{"x":{"field":"t","type":"quantitative","scale":{"domain":[-30,14.9],"nice":false,"zero":false},"axis":{"values":[-20,-10,0,10],"tickCount":20,"title":null}},"y":{"field":"e","type":"quantitative","scale":{"domain":[-30,14.9],"nice":false,"zero":false},"axis":{"values":[-20,-10,0,10],"tickCount":20,"title":null}}}},
{"data":{"name":"S6"},"mark":{"type":"point","filled":true,"size":250,"opacity":0.85,"stroke":"white","strokeWidth":0.5},"encoding":{"x":{"field":"t","type":"quantitative"},"y":{"field":"e","type":"quantitative"},"color":{"field":"w","type":"nominal","legend":null},"shape":{"field":"w","type":"nominal","legend":null}}},
{"data":{"name":"ann"},"transform":[{"filter":"datum.p=='S6'"}],"mark":{"type":"text","text":"r","fontStyle":"italic","fontSize":8.5,"align":"left","baseline":"middle","dx":6,"dy":10.7,"color":"#111"},"encoding":{"x":{"datum":-30},"y":{"datum":14.9}}},
{"data":{"name":"ann"},"transform":[{"filter":"datum.p=='S6'"}],"mark":{"type":"text","fontSize":8.5,"align":"left","baseline":"middle","dx":9.5,"dy":10.7,"color":"#111"},"encoding":{"x":{"datum":-30},"y":{"datum":14.9},"text":{"field":"r"}}},
{"data":{"name":"ann"},"transform":[{"filter":"datum.p=='S6'"}],"mark":{"type":"text","text":"n","fontStyle":"italic","fontSize":8.5,"align":"left","baseline":"middle","dx":6,"dy":21,"color":"#111"},"encoding":{"x":{"datum":-30},"y":{"datum":14.9}}},
{"data":{"name":"ann"},"transform":[{"filter":"datum.p=='S6'"}],"mark":{"type":"text","fontSize":8.5,"align":"left","baseline":"middle","dx":11.4,"dy":21,"color":"#111"},"encoding":{"x":{"datum":-30},"y":{"datum":14.9},"text":{"field":"n"}}}
]},
{"width":157.5,"height":157,"layer":[
{"data":{"name":"diag"},"transform":[{"filter":"datum.p=='H1'"}],"mark":{"type":"line","clip":true,"color":"#666","strokeWidth":0.8,"strokeDash":[3,1.6]},"encoding":{"x":{"field":"t","type":"quantitative","scale":{"domain":[-28.7,15.3],"nice":false,"zero":false},"axis":{"values":[-20,-10,0,10],"tickCount":20,"title":"truth (%)"}},"y":{"field":"e","type":"quantitative","scale":{"domain":[-28.7,15.3],"nice":false,"zero":false},"axis":{"values":[-20,-10,0,10],"tickCount":20,"title":["Haiku 4.5","estimate (%)"]}}}},
{"data":{"name":"H1"},"mark":{"type":"point","filled":true,"size":250,"opacity":0.85,"stroke":"white","strokeWidth":0.5},"encoding":{"x":{"field":"t","type":"quantitative"},"y":{"field":"e","type":"quantitative"},"color":{"field":"w","type":"nominal","legend":null},"shape":{"field":"w","type":"nominal","legend":null}}},
{"data":{"name":"ann"},"transform":[{"filter":"datum.p=='H1'"}],"mark":{"type":"text","text":"r","fontStyle":"italic","fontSize":8.5,"align":"left","baseline":"middle","dx":6,"dy":10.7,"color":"#111"},"encoding":{"x":{"datum":-28.7},"y":{"datum":15.3}}},
{"data":{"name":"ann"},"transform":[{"filter":"datum.p=='H1'"}],"mark":{"type":"text","fontSize":8.5,"align":"left","baseline":"middle","dx":9.5,"dy":10.7,"color":"#111"},"encoding":{"x":{"datum":-28.7},"y":{"datum":15.3},"text":{"field":"r"}}},
{"data":{"name":"ann"},"transform":[{"filter":"datum.p=='H1'"}],"mark":{"type":"text","text":"n","fontStyle":"italic","fontSize":8.5,"align":"left","baseline":"middle","dx":6,"dy":21,"color":"#111"},"encoding":{"x":{"datum":-28.7},"y":{"datum":15.3}}},
{"data":{"name":"ann"},"transform":[{"filter":"datum.p=='H1'"}],"mark":{"type":"text","fontSize":8.5,"align":"left","baseline":"middle","dx":11.4,"dy":21,"color":"#111"},"encoding":{"x":{"datum":-28.7},"y":{"datum":15.3},"text":{"field":"n"}}}
]},
{"width":157.5,"height":157,"layer":[
{"data":{"name":"diag"},"transform":[{"filter":"datum.p=='H2'"}],"mark":{"type":"line","clip":true,"color":"#666","strokeWidth":0.8,"strokeDash":[3,1.6]},"encoding":{"x":{"field":"t","type":"quantitative","scale":{"domain":[-30,30],"nice":false,"zero":false},"axis":{"values":[-20,0,20],"tickCount":20,"title":"truth (%)"}},"y":{"field":"e","type":"quantitative","scale":{"domain":[-30,30],"nice":false,"zero":false},"axis":{"values":[-30,-20,-10,0,10,20,30],"tickCount":20,"title":null}}}},
{"data":{"name":"H2"},"mark":{"type":"point","filled":true,"size":250,"opacity":0.85,"stroke":"white","strokeWidth":0.5},"encoding":{"x":{"field":"t","type":"quantitative"},"y":{"field":"e","type":"quantitative"},"color":{"field":"w","type":"nominal","legend":null},"shape":{"field":"w","type":"nominal","legend":null}}},
{"data":{"name":"ann"},"transform":[{"filter":"datum.p=='H2'"}],"mark":{"type":"text","text":"r","fontStyle":"italic","fontSize":8.5,"align":"left","baseline":"middle","dx":6,"dy":10.7,"color":"#111"},"encoding":{"x":{"datum":-30},"y":{"datum":30}}},
{"data":{"name":"ann"},"transform":[{"filter":"datum.p=='H2'"}],"mark":{"type":"text","fontSize":8.5,"align":"left","baseline":"middle","dx":9.5,"dy":10.7,"color":"#111"},"encoding":{"x":{"datum":-30},"y":{"datum":30},"text":{"field":"r"}}},
{"data":{"name":"ann"},"transform":[{"filter":"datum.p=='H2'"}],"mark":{"type":"text","text":"n","fontStyle":"italic","fontSize":8.5,"align":"left","baseline":"middle","dx":6,"dy":21,"color":"#111"},"encoding":{"x":{"datum":-30},"y":{"datum":30}}},
{"data":{"name":"ann"},"transform":[{"filter":"datum.p=='H2'"}],"mark":{"type":"text","fontSize":8.5,"align":"left","baseline":"middle","dx":11.4,"dy":21,"color":"#111"},"encoding":{"x":{"datum":-30},"y":{"datum":30},"text":{"field":"n"}}}
]},
{"width":157.5,"height":157,"layer":[
{"data":{"name":"diag"},"transform":[{"filter":"datum.p=='H3'"}],"mark":{"type":"line","clip":true,"color":"#666","strokeWidth":0.8,"strokeDash":[3,1.6]},"encoding":{"x":{"field":"t","type":"quantitative","scale":{"domain":[-30.1,15.2],"nice":false,"zero":false},"axis":{"values":[-30,-20,-10,0,10],"tickCount":20,"title":"truth (%)"}},"y":{"field":"e","type":"quantitative","scale":{"domain":[-30.1,15.2],"nice":false,"zero":false},"axis":{"values":[-30,-20,-10,0,10],"tickCount":20,"title":null}}}},
{"data":{"name":"H3"},"mark":{"type":"point","filled":true,"size":250,"opacity":0.85,"stroke":"white","strokeWidth":0.5},"encoding":{"x":{"field":"t","type":"quantitative"},"y":{"field":"e","type":"quantitative"},"color":{"field":"w","type":"nominal","legend":null},"shape":{"field":"w","type":"nominal","legend":null}}},
{"data":{"name":"ann"},"transform":[{"filter":"datum.p=='H3'"}],"mark":{"type":"text","text":"r","fontStyle":"italic","fontSize":8.5,"align":"left","baseline":"middle","dx":6,"dy":10.7,"color":"#111"},"encoding":{"x":{"datum":-30.1},"y":{"datum":15.2}}},
{"data":{"name":"ann"},"transform":[{"filter":"datum.p=='H3'"}],"mark":{"type":"text","fontSize":8.5,"align":"left","baseline":"middle","dx":9.5,"dy":10.7,"color":"#111"},"encoding":{"x":{"datum":-30.1},"y":{"datum":15.2},"text":{"field":"r"}}},
{"data":{"name":"ann"},"transform":[{"filter":"datum.p=='H3'"}],"mark":{"type":"text","text":"n","fontStyle":"italic","fontSize":8.5,"align":"left","baseline":"middle","dx":6,"dy":21,"color":"#111"},"encoding":{"x":{"datum":-30.1},"y":{"datum":15.2}}},
{"data":{"name":"ann"},"transform":[{"filter":"datum.p=='H3'"}],"mark":{"type":"text","fontSize":8.5,"align":"left","baseline":"middle","dx":11.4,"dy":21,"color":"#111"},"encoding":{"x":{"datum":-30.1},"y":{"datum":15.2},"text":{"field":"n"}}}
]},
{"width":157.5,"height":157,"layer":[
{"data":{"name":"diag"},"transform":[{"filter":"datum.p=='H4'"}],"mark":{"type":"line","clip":true,"color":"#666","strokeWidth":0.8,"strokeDash":[3,1.6]},"encoding":{"x":{"field":"t","type":"quantitative","scale":{"domain":[-29.7,30.4],"nice":false,"zero":false},"axis":{"values":[-20,0,20],"tickCount":20,"title":"truth (%)"}},"y":{"field":"e","type":"quantitative","scale":{"domain":[-29.7,30.4],"nice":false,"zero":false},"axis":{"values":[-20,-10,0,10,20,30],"tickCount":20,"title":null}}}},
{"data":{"name":"H4"},"mark":{"type":"point","filled":true,"size":250,"opacity":0.85,"stroke":"white","strokeWidth":0.5},"encoding":{"x":{"field":"t","type":"quantitative"},"y":{"field":"e","type":"quantitative"},"color":{"field":"w","type":"nominal","legend":null},"shape":{"field":"w","type":"nominal","legend":null}}},
{"data":{"name":"ann"},"transform":[{"filter":"datum.p=='H4'"}],"mark":{"type":"text","text":"r","fontStyle":"italic","fontSize":8.5,"align":"left","baseline":"middle","dx":6,"dy":10.7,"color":"#111"},"encoding":{"x":{"datum":-29.7},"y":{"datum":30.4}}},
{"data":{"name":"ann"},"transform":[{"filter":"datum.p=='H4'"}],"mark":{"type":"text","fontSize":8.5,"align":"left","baseline":"middle","dx":9.5,"dy":10.7,"color":"#111"},"encoding":{"x":{"datum":-29.7},"y":{"datum":30.4},"text":{"field":"r"}}},
{"data":{"name":"ann"},"transform":[{"filter":"datum.p=='H4'"}],"mark":{"type":"text","text":"n","fontStyle":"italic","fontSize":8.5,"align":"left","baseline":"middle","dx":6,"dy":21,"color":"#111"},"encoding":{"x":{"datum":-29.7},"y":{"datum":30.4}}},
{"data":{"name":"ann"},"transform":[{"filter":"datum.p=='H4'"}],"mark":{"type":"text","fontSize":8.5,"align":"left","baseline":"middle","dx":11.4,"dy":21,"color":"#111"},"encoding":{"x":{"datum":-29.7},"y":{"datum":30.4},"text":{"field":"n"}}}
]},
{"width":157.5,"height":157,"layer":[
{"data":{"name":"diag"},"transform":[{"filter":"datum.p=='H5'"}],"mark":{"type":"line","clip":true,"color":"#666","strokeWidth":0.8,"strokeDash":[3,1.6]},"encoding":{"x":{"field":"t","type":"quantitative","scale":{"domain":[-15,15],"nice":false,"zero":false},"axis":{"values":[-10,0,10],"tickCount":20,"title":"truth (%)"}},"y":{"field":"e","type":"quantitative","scale":{"domain":[-15,15],"nice":false,"zero":false},"axis":{"values":[-15,-10,-5,0,5,10,15],"tickCount":20,"title":null}}}},
{"data":{"name":"H5"},"mark":{"type":"point","filled":true,"size":250,"opacity":0.85,"stroke":"white","strokeWidth":0.5},"encoding":{"x":{"field":"t","type":"quantitative"},"y":{"field":"e","type":"quantitative"},"color":{"field":"w","type":"nominal","legend":null},"shape":{"field":"w","type":"nominal","legend":null}}},
{"data":{"name":"ann"},"transform":[{"filter":"datum.p=='H5'"}],"mark":{"type":"text","text":"r","fontStyle":"italic","fontSize":8.5,"align":"left","baseline":"middle","dx":6,"dy":10.7,"color":"#111"},"encoding":{"x":{"datum":-15},"y":{"datum":15}}},
{"data":{"name":"ann"},"transform":[{"filter":"datum.p=='H5'"}],"mark":{"type":"text","fontSize":8.5,"align":"left","baseline":"middle","dx":9.5,"dy":10.7,"color":"#111"},"encoding":{"x":{"datum":-15},"y":{"datum":15},"text":{"field":"r"}}},
{"data":{"name":"ann"},"transform":[{"filter":"datum.p=='H5'"}],"mark":{"type":"text","text":"n","fontStyle":"italic","fontSize":8.5,"align":"left","baseline":"middle","dx":6,"dy":21,"color":"#111"},"encoding":{"x":{"datum":-15},"y":{"datum":15}}},
{"data":{"name":"ann"},"transform":[{"filter":"datum.p=='H5'"}],"mark":{"type":"text","fontSize":8.5,"align":"left","baseline":"middle","dx":11.4,"dy":21,"color":"#111"},"encoding":{"x":{"datum":-15},"y":{"datum":15},"text":{"field":"n"}}}
]},
{"width":157.5,"height":157,"layer":[
{"data":{"name":"diag"},"transform":[{"filter":"datum.p=='H6'"}],"mark":{"type":"line","clip":true,"color":"#666","strokeWidth":0.8,"strokeDash":[3,1.6]},"encoding":{"x":{"field":"t","type":"quantitative","scale":{"domain":[-39.2,30.1],"nice":false,"zero":false},"axis":{"values":[-20,0,20],"tickCount":20,"title":"truth (%)"}},"y":{"field":"e","type":"quantitative","scale":{"domain":[-39.2,30.1],"nice":false,"zero":false},"axis":{"values":[-30,-20,-10,0,10,20,30],"tickCount":20,"title":null}}}},
{"data":{"name":"H6"},"mark":{"type":"point","filled":true,"size":250,"opacity":0.85,"stroke":"white","strokeWidth":0.5},"encoding":{"x":{"field":"t","type":"quantitative"},"y":{"field":"e","type":"quantitative"},"color":{"field":"w","type":"nominal","legend":null},"shape":{"field":"w","type":"nominal","legend":null}}},
{"data":{"name":"ann"},"transform":[{"filter":"datum.p=='H6'"}],"mark":{"type":"text","text":"r","fontStyle":"italic","fontSize":8.5,"align":"left","baseline":"middle","dx":6,"dy":10.7,"color":"#111"},"encoding":{"x":{"datum":-39.2},"y":{"datum":30.1}}},
{"data":{"name":"ann"},"transform":[{"filter":"datum.p=='H6'"}],"mark":{"type":"text","fontSize":8.5,"align":"left","baseline":"middle","dx":9.5,"dy":10.7,"color":"#111"},"encoding":{"x":{"datum":-39.2},"y":{"datum":30.1},"text":{"field":"r"}}},
{"data":{"name":"ann"},"transform":[{"filter":"datum.p=='H6'"}],"mark":{"type":"text","text":"n","fontStyle":"italic","fontSize":8.5,"align":"left","baseline":"middle","dx":6,"dy":21,"color":"#111"},"encoding":{"x":{"datum":-39.2},"y":{"datum":30.1}}},
{"data":{"name":"ann"},"transform":[{"filter":"datum.p=='H6'"}],"mark":{"type":"text","fontSize":8.5,"align":"left","baseline":"middle","dx":11.4,"dy":21,"color":"#111"},"encoding":{"x":{"datum":-39.2},"y":{"datum":30.1},"text":{"field":"n"}}}
]}
],
"config":{
"font":"DejaVu Sans",
"view":{"stroke":"#222","strokeWidth":1},
"axis":{"labelFont":"DejaVu Sans","labelFontSize":9.5,"labelColor":"#222","tickColor":"#222","tickSize":3.5,"tickWidth":0.8,"labelPadding":2,"domain":false,"gridColor":"#e3e3e3","gridWidth":0.8,"labelFlush":false,"labelOverlap":false,"titleFont":"DejaVu Sans","titleFontSize":11,"titleFontWeight":"normal","titleColor":"#222","titlePadding":4},
"axisX":{"labelPadding":3.5},
"title":{"font":"DejaVu Sans","fontSize":12,"fontWeight":"normal","color":"#222","offset":-1,"frame":"group"},
"legend":{"labelFont":"DejaVu Sans","labelColor":"#222","layout":{"bottom":{"anchor":"middle"}}},
"text":{"font":"DejaVu Sans"}
}
}
